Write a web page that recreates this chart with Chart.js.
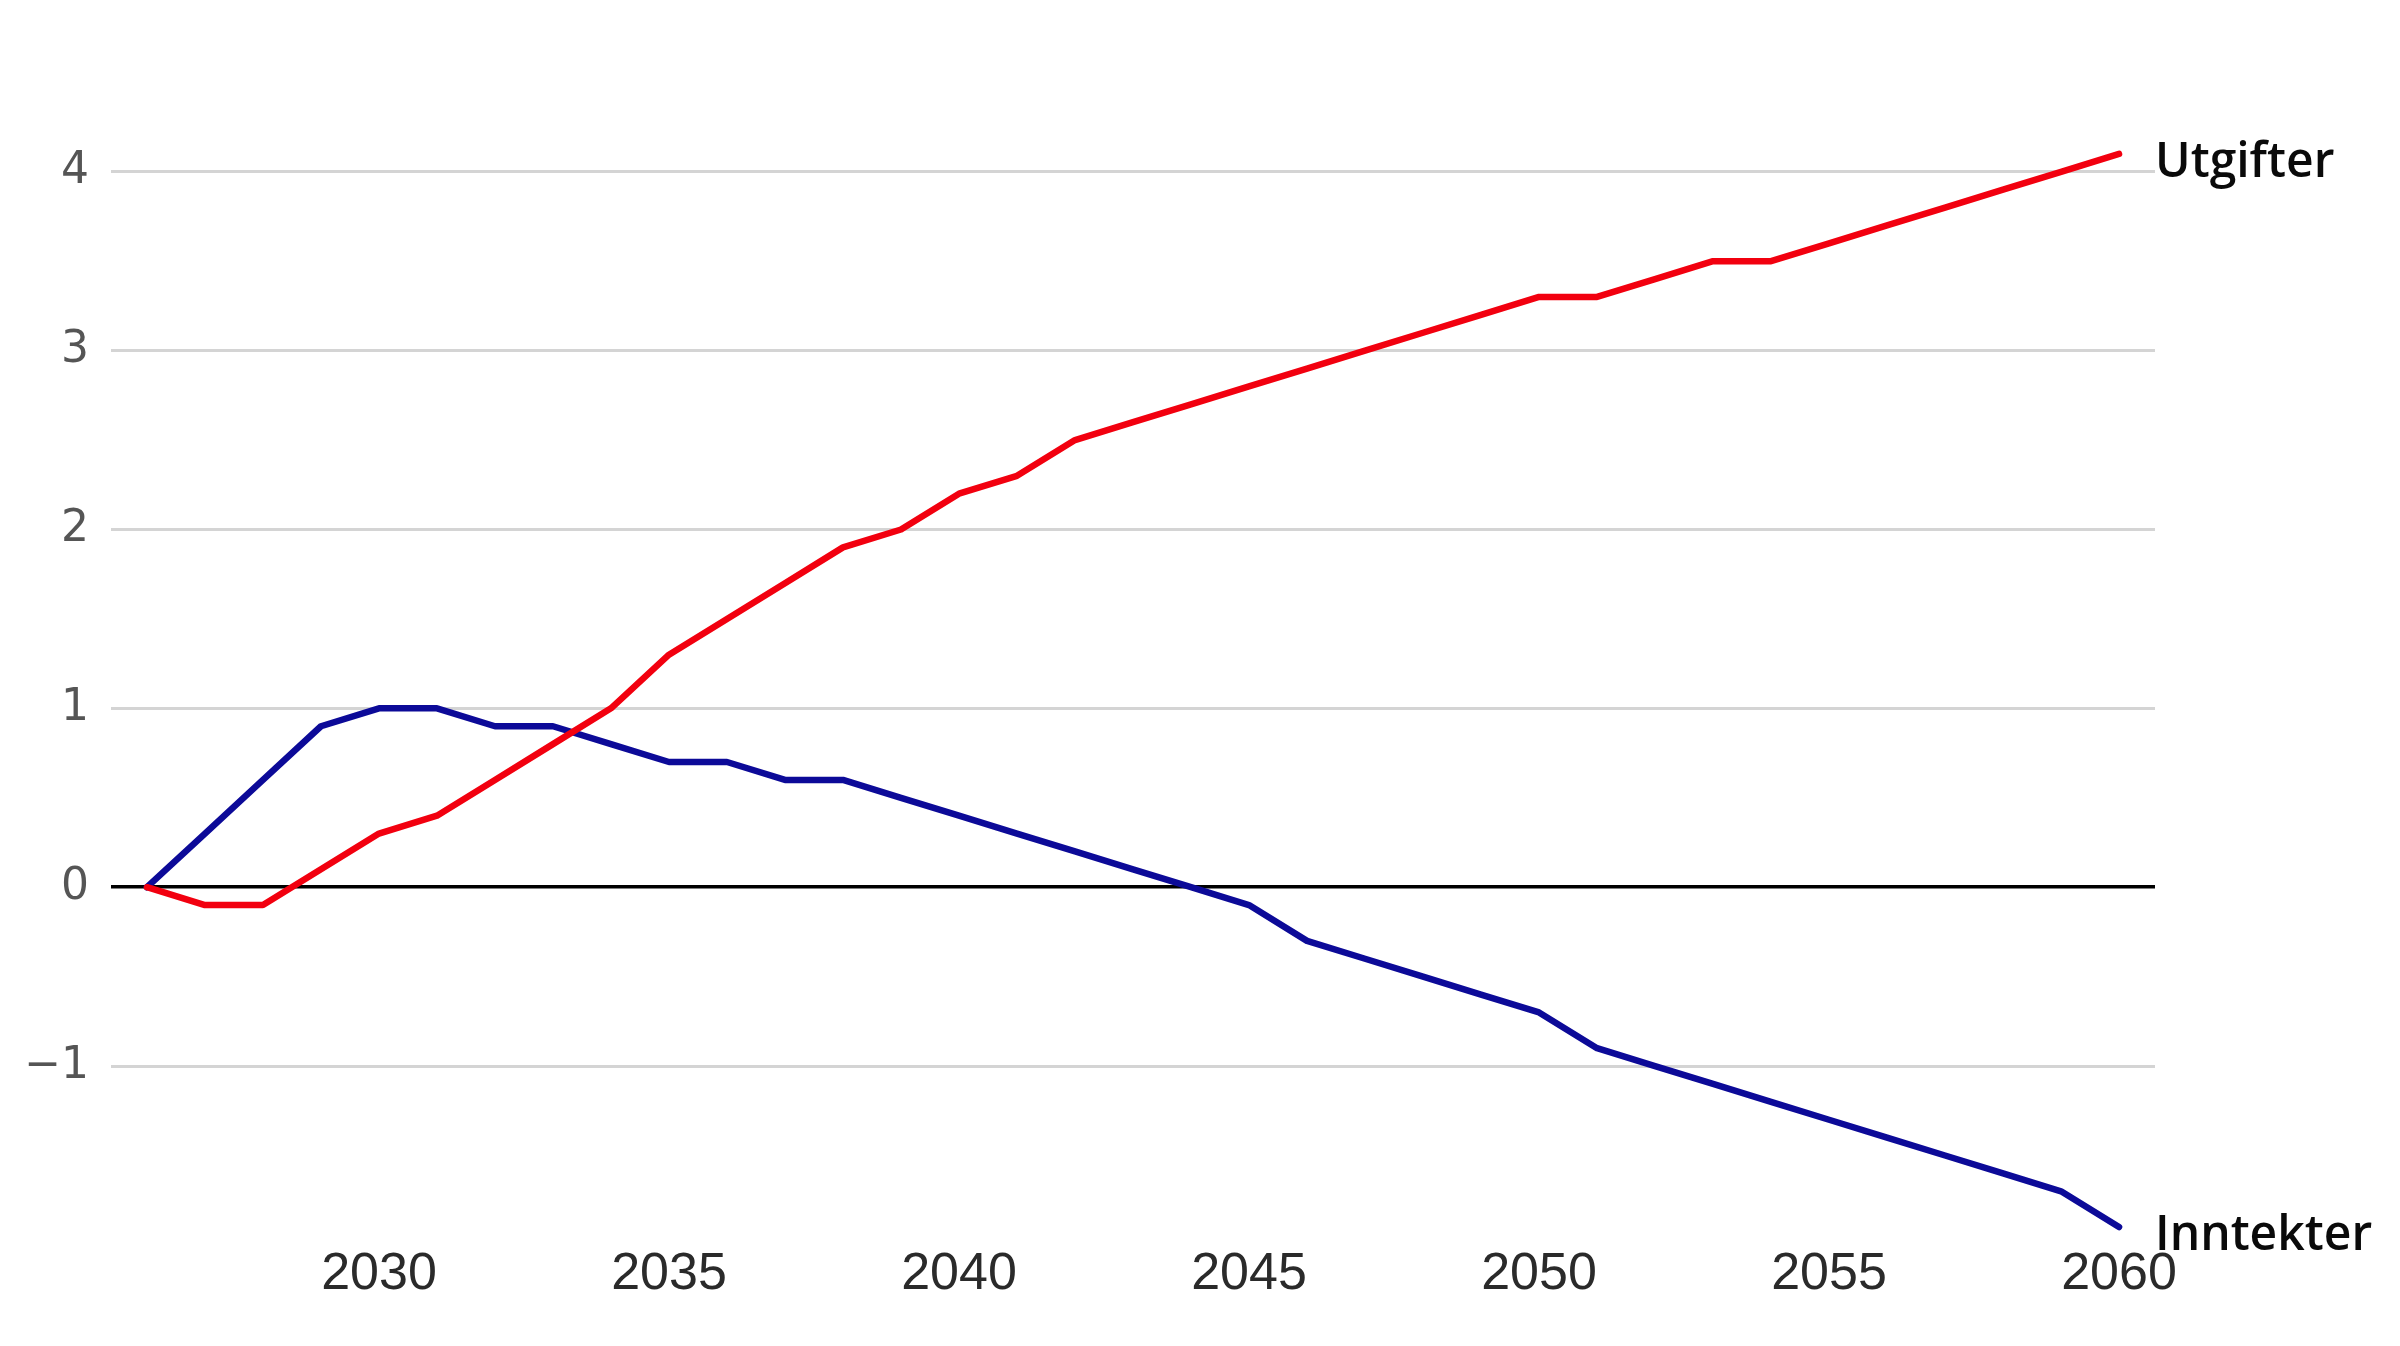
<!DOCTYPE html>
<html>
<head>
<meta charset="utf-8">
<script src="https://cdn.jsdelivr.net/npm/chart.js@4.4.1/dist/chart.umd.min.js"></script>
<style>
  html, body { margin: 0; padding: 0; background: #fff; }
  #wrap { width: 2400px; height: 1346px; }
</style>
</head>
<body>
<div id="wrap"><canvas id="chart" width="2400" height="1346"></canvas></div>
<script>
// years on the x axis
const years = [2026, 2027, 2028, 2029, 2030, 2031, 2032, 2033, 2034, 2035,
  2036, 2037, 2038, 2039, 2040, 2041, 2042, 2043, 2044, 2045,
  2046, 2047, 2048, 2049, 2050, 2051, 2052, 2053, 2054, 2055,
  2056, 2057, 2058, 2059, 2060];

const utgifter = [0, -0.1, -0.1, 0.1, 0.3, 0.4, 0.6, 0.8, 1.0, 1.3,
  1.5, 1.7, 1.9, 2.0, 2.2, 2.3, 2.5, 2.6, 2.7, 2.8,
  2.9, 3.0, 3.1, 3.2, 3.3, 3.3, 3.4, 3.5, 3.5, 3.6,
  3.7, 3.8, 3.9, 4.0, 4.1];

const inntekter = [0, 0.3, 0.6, 0.9, 1.0, 1.0, 0.9, 0.9, 0.8, 0.7,
  0.7, 0.6, 0.6, 0.5, 0.4, 0.3, 0.2, 0.1, 0.0, -0.1,
  -0.3, -0.4, -0.5, -0.6, -0.7, -0.9, -1.0, -1.1, -1.2, -1.3,
  -1.4, -1.5, -1.6, -1.7, -1.9];

const xTicks = [2030, 2035, 2040, 2045, 2050, 2055, 2060];
const yTicks = [-1, 0, 1, 2, 3, 4];
const seriesNames = ["Utgifter", "Inntekter"];

const RED = "#f2000f";
const BLUE = "#0c0a98";

const toPoints = vals => years.map((yr, i) => ({ x: yr, y: vals[i] }));

// series name written at the right end of each line
const endLabels = {
  id: "endLabels",
  afterDatasetsDraw(chart) {
    const ctx = chart.ctx;
    ctx.save();
    ctx.font = '600 48px "Open Sans"';
    ctx.fillStyle = "#0a0a0a";
    ctx.textBaseline = "middle";
    ctx.textAlign = "left";
    chart.data.datasets.forEach((ds, i) => {
      const pts = chart.getDatasetMeta(i).data;
      const last = pts[pts.length - 1];
      ctx.fillText(ds.label, chart.chartArea.right, last.y + 9);
    });
    ctx.restore();
  }
};

new Chart(document.getElementById("chart"), {
  type: "line",
  data: {
    datasets: [
      { label: seriesNames[0], data: toPoints(utgifter), borderColor: RED },
      { label: seriesNames[1], data: toPoints(inntekter), borderColor: BLUE }
    ]
  },
  options: {
    responsive: false,
    animation: false,
    devicePixelRatio: 1,
    layout: { padding: { top: 136, right: 245, left: 0, bottom: 0 } },
    elements: {
      line: { borderWidth: 6.5, tension: 0, borderCapStyle: "round", borderJoinStyle: "round" },
      point: { radius: 0 }
    },
    plugins: { legend: { display: false }, tooltip: { enabled: false } },
    scales: {
      x: {
        type: "linear",
        min: 2025.38,
        max: 2060.62,
        afterBuildTicks: s => { s.ticks = xTicks.map(v => ({ value: v })); },
        afterFit: s => { s.height = 110; },
        grid: { display: false },
        border: { display: false },
        ticks: {
          padding: -1,
          color: "#2a2a2a",
          font: { family: '"Liberation Sans", Arial', size: 52 },
          callback: v => String(v)
        }
      },
      y: {
        min: -1.95,
        max: 4.2,
        afterBuildTicks: s => { s.ticks = yTicks.map(v => ({ value: v })); },
        afterFit: s => { s.width = 111; },
        border: { display: false },
        grid: {
          drawTicks: false,
          color: c => (c.tick && c.tick.value === 0 ? "#000" : "#d4d4d4"),
          lineWidth: c => (c.tick && c.tick.value === 0 ? 3.5 : 3)
        },
        ticks: {
          padding: 22,
          color: "#555",
          font: { family: '"DejaVu Sans"', size: 44 },
          callback: v => (v < 0 ? "\u2212" + Math.abs(v) : String(v))
        }
      }
    }
  },
  plugins: [endLabels]
});
</script>
</body>
</html>
